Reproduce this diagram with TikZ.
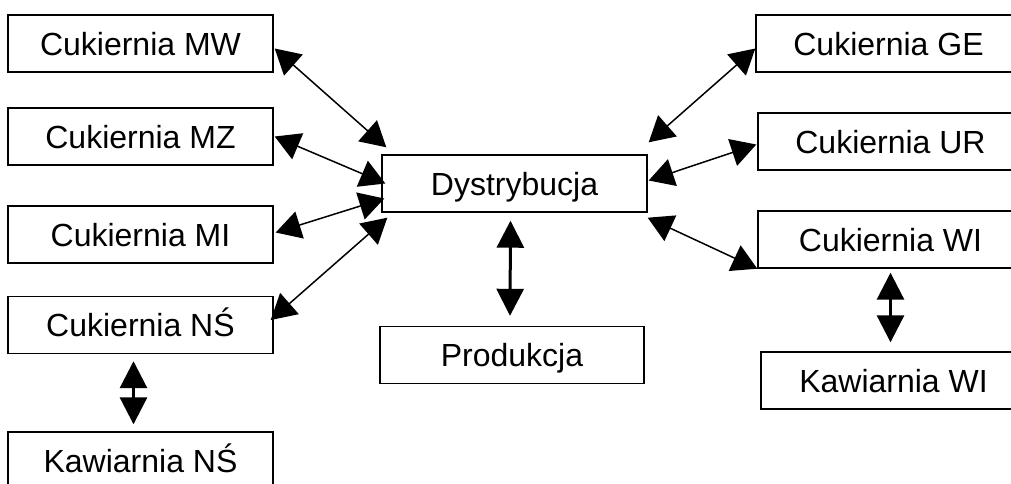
\documentclass[tikz,border=0pt]{standalone}
\usepackage{fontspec}
\setmainfont{Liberation Sans}
\usetikzlibrary{arrows.meta,calc}
\begin{document}
\begin{tikzpicture}[x=1pt,y=-1pt,
  unit/.style={draw, line width=1.4pt, minimum width=265pt, minimum height=57pt,
    inner sep=0pt, text height=30pt, text depth=7pt,
    font=\fontsize{32}{37}\selectfont},
  link/.style={line width=1.5pt, {Triangle[length=25pt,width=28pt]}-{Triangle[length=25pt,width=28pt]}},
  vlink/.style={line width=3pt, {Triangle[length=27pt,width=27pt]}-{Triangle[length=27pt,width=27pt]}}]
\useasboundingbox (0,0) rectangle (1011,483);
\clip (0,0) rectangle (1011,483);

% shops on the left
\node[unit] (MW)  at (140.5,43.5)  {Cukiernia MW};
\node[unit] (MZ)  at (140.5,136.5) {Cukiernia MZ};
\node[unit] (MI)  at (140.5,234.5) {Cukiernia MI};
\node[unit] (NS)  at (140.5,325)   {Cukiernia NŚ};
\node[unit] (KNS) at (140.5,460.5) {Kawiarnia NŚ};

% centre
\node[unit] (Dys)  at (514.5,183.5) {Dystrybucja};
\node[unit, minimum width=264pt] (Prod) at (512,355) {Produkcja};

% shops on the right
\node[unit] (GE)  at (888.5,43.5)  {Cukiernia GE};
\node[unit] (UR)  at (890.5,141.5) {Cukiernia UR};
\node[unit] (WI)  at (890.5,239.5) {Cukiernia WI};
\node[unit] (KWI) at (893.5,380.5) {Kawiarnia WI};

% connections to distribution
\draw[link] ($(MW.east)+(1,5)$) -- ($(Dys.north west)+(5,-7)$);
\draw[link] ($(MZ.east)+(1,0)$) -- ($(Dys.west)+(4,0)$);
\draw[link] ($(MI.east)+(2,-2)$) -- ($(Dys.west)+(3,15)$);
\draw[link] ($(NS.east)+(-3,-5)$) -- ($(Dys.south west)+(6,5)$);
\draw[link] ($(GE.west)+(0,5)$) -- ($(Dys.north east)+(1,-12)$);
\draw[link] ($(UR.west)+(-1,3)$) -- ($(Dys.east)+(1,-3)$);
\draw[link] (WI.south west) -- ($(Dys.south east)+(0,5)$);

% vertical links
\draw[vlink] ($(Dys.south)+(-4,8)$) -- ($(Prod.north)+(-2,-10)$);
\draw[vlink] ($(NS.south)+(-7,7)$) -- ($(KNS.north)+(-7,-7)$);
\draw[vlink] ($(WI.south)+(0,4)$) -- ($(KWI.north)+(-3,-9)$);
\end{tikzpicture}
\end{document}
